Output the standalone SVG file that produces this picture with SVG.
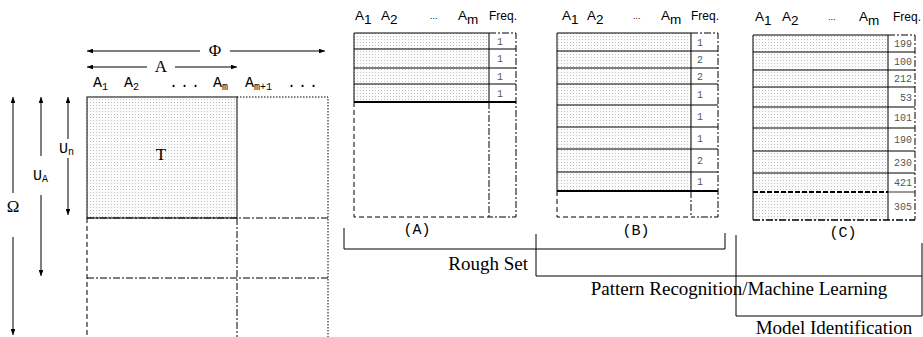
<svg xmlns="http://www.w3.org/2000/svg" width="923" height="337" viewBox="0 0 923 337">
  <defs>
    <pattern id="dots" width="3" height="3" patternUnits="userSpaceOnUse">
      <rect width="3" height="3" fill="#fcfcfc"/>
      <rect width="1" height="1" fill="#c2c2c2"/>
    </pattern>
    <marker id="ah" viewBox="0 0 10 8" refX="10" refY="4" markerWidth="6" markerHeight="4.8" orient="auto">
      <path d="M0,0 L10,4 L0,8 z" fill="#000"/>
    </marker>
  </defs>
  <style>
    .ln{stroke:#000;stroke-width:1;fill:none}
    .thick{stroke:#000;stroke-width:2;fill:none}
    .gray{stroke:#333;stroke-width:1;fill:none}
    .dash{stroke:#000;stroke-width:1;stroke-dasharray:5 3;fill:none}
    .dd{stroke:#000;stroke-width:1;stroke-dasharray:7 2 2 2;fill:none}
    .dot{stroke:#000;stroke-width:1;stroke-dasharray:1.5 1.5;fill:none}
    .arr{stroke:#000;stroke-width:1;fill:none;marker-end:url(#ah)}
    .mono{font-family:"Liberation Mono","Courier New",monospace;fill:#000}
    .serif{font-family:"Liberation Serif","Times New Roman",serif;fill:#000}
    .sans{font-family:"Liberation Sans",Arial,sans-serif;fill:#000}
    .num{font-family:"Liberation Mono","Courier New",monospace;font-size:10px;fill:#555}
    .hdr{font-size:13.5px}
    .fq{font-size:12px}
  </style>

  <!-- Universe of attributes and objects -->
  <g id="universe">
    <rect x="87" y="97" width="150" height="121" fill="url(#dots)" stroke="#000" stroke-width="1"/>
    <text class="serif" x="161" y="160" font-size="17" text-anchor="middle">T</text>
    <path class="dot" d="M237,97 H328 V337"/>
    <path class="dd" d="M87,218 H328 M87,278 H328 M237,218 V337"/>
    <path class="dash" d="M87,218 V337"/>
    <!-- attribute labels -->
    <g class="mono" font-size="15">
      <text x="93" y="87">A<tspan font-size="10" dy="3">1</tspan></text>
      <text x="124" y="87">A<tspan font-size="10" dy="3">2</tspan></text>
      <text x="169" y="87" letter-spacing="2">...</text>
      <text x="213" y="87">A<tspan font-size="10" dy="3">m</tspan></text>
      <text x="245" y="87">A<tspan font-size="10" dy="3">m+1</tspan></text>
      <text x="287" y="87" letter-spacing="2">...</text>
    </g>
  </g>

  <!-- Dimension arrows -->
  <g id="dimension-arrows">
    <line class="arr" x1="200" y1="51" x2="87" y2="51"/>
    <line class="arr" x1="230" y1="51" x2="325" y2="51"/>
    <text class="serif" x="215" y="56" font-size="17" text-anchor="middle">Φ</text>
    <line class="arr" x1="147" y1="67" x2="87" y2="67"/>
    <line class="arr" x1="175" y1="67" x2="237" y2="67"/>
    <text class="serif" x="161" y="72" font-size="17" text-anchor="middle">A</text>

    <line class="arr" x1="13" y1="193" x2="13" y2="97"/>
    <line class="arr" x1="13" y1="237" x2="13" y2="335"/>
    <text class="serif" x="13" y="212" font-size="17" text-anchor="middle">Ω</text>

    <line class="arr" x1="41" y1="156" x2="41" y2="97"/>
    <line class="arr" x1="41" y1="195" x2="41" y2="276"/>
    <text class="mono" x="33" y="180" font-size="15">U<tspan font-size="10" dy="2">A</tspan></text>

    <line class="arr" x1="68" y1="139" x2="68" y2="97"/>
    <line class="arr" x1="68" y1="158" x2="68" y2="215"/>
    <text class="mono" x="59" y="153" font-size="15">U<tspan font-size="10" dy="2">n</tspan></text>
  </g>

  <!-- Panel A -->
  <g id="panel-a">
    <g class="sans hdr">
      <text x="355" y="20">A<tspan dy="4">1</tspan></text>
      <text x="381" y="20">A<tspan dy="4">2</tspan></text>
      <text x="430" y="19" font-size="9">...</text>
      <text x="458" y="20">A<tspan dy="4">m</tspan></text>
      <text class="fq" x="517" y="20" text-anchor="end">Freq.</text>
    </g>
    <rect x="354" y="33" width="135" height="69" fill="url(#dots)"/>
    <path class="ln" d="M354,33 H489 M354,33 V102 M489,33 V102 M354,49 H516 M354,68 H516 M354,84 H516"/>
    <path class="thick" d="M354,102 H516"/>
    <path class="dd" d="M489,33 H516 V217 H489 M489,102 V217"/>
    <path class="dash" d="M354,102 V217 H489"/>
    <g class="num">
      <text x="497" y="45">1</text>
      <text x="497" y="62">1</text>
      <text x="497" y="80">1</text>
      <text x="497" y="97">1</text>
    </g>
    <text class="mono" x="417" y="234" font-size="15" text-anchor="middle">(A)</text>
  </g>

  <!-- Panel B -->
  <g id="panel-b">
    <g class="sans hdr">
      <text x="562" y="20">A<tspan dy="4">1</tspan></text>
      <text x="587" y="20">A<tspan dy="4">2</tspan></text>
      <text x="633" y="19" font-size="9">...</text>
      <text x="661" y="20">A<tspan dy="4">m</tspan></text>
      <text class="fq" x="719" y="20" text-anchor="end">Freq.</text>
    </g>
    <rect x="557" y="33" width="134" height="158" fill="url(#dots)"/>
    <path class="ln" d="M557,33 H691 M557,33 V191 M691,33 V191 M557,51 H718 M557,68 H718 M557,84 H718 M557,105 H718 M557,127 H718 M557,149 H718 M557,172 H718"/>
    <path class="thick" d="M557,191 H718"/>
    <path class="dd" d="M691,33 H718 V217 H691 M691,191 V217"/>
    <path class="dash" d="M557,191 V217 H691"/>
    <g class="num">
      <text x="697" y="46">1</text>
      <text x="697" y="63">2</text>
      <text x="697" y="80">2</text>
      <text x="697" y="98">1</text>
      <text x="697" y="120">1</text>
      <text x="697" y="142">1</text>
      <text x="697" y="164">2</text>
      <text x="697" y="185">1</text>
    </g>
    <text class="mono" x="636" y="235" font-size="15" text-anchor="middle">(B)</text>
  </g>

  <!-- Panel C -->
  <g id="panel-c">
    <g class="sans hdr">
      <text x="755" y="21">A<tspan dy="4">1</tspan></text>
      <text x="782" y="21">A<tspan dy="4">2</tspan></text>
      <text x="828" y="20" font-size="9">...</text>
      <text x="859" y="21">A<tspan dy="4">m</tspan></text>
      <text class="fq" x="921" y="21" text-anchor="end">Freq.</text>
    </g>
    <rect x="753" y="35" width="135" height="185" fill="url(#dots)"/>
    <path class="ln" d="M753,35 H888 M753,35 V220 M888,35 V220 M753,52 H915 M753,70 H915 M753,87 H915 M753,107 H915 M753,128 H915 M753,151 H915 M753,173 H915"/>
    <path class="gray" d="M888,192 H915"/>
    <path stroke="#000" stroke-width="2" stroke-dasharray="5 2" fill="none" d="M753,192 H888"/>
    <path stroke="#000" stroke-width="1.6" stroke-dasharray="7 2 2 2" fill="none" d="M753,220 H915"/>
    <path class="dd" d="M888,35 H915 V220"/>
    <g class="num" text-anchor="end">
      <text x="912" y="47">199</text>
      <text x="912" y="65">100</text>
      <text x="912" y="82">212</text>
      <text x="912" y="101">53</text>
      <text x="912" y="121">101</text>
      <text x="912" y="143">190</text>
      <text x="912" y="166">230</text>
      <text x="912" y="186">421</text>
      <text x="912" y="210">305</text>
    </g>
    <text class="mono" x="843" y="237" font-size="15" text-anchor="middle">(C)</text>
  </g>

  <!-- Method brackets -->
  <g id="brackets">
    <path class="ln" d="M344,228 V249 H725 V233"/>
    <path class="ln" d="M536,234 V276 H922 V243"/>
    <path class="ln" d="M736,235 V316 H922 V276"/>
    <text class="serif" x="528" y="270" font-size="19" text-anchor="end">Rough Set</text>
    <text class="serif" x="739" y="295" font-size="19" text-anchor="middle">Pattern Recognition/Machine Learning</text>
    <text class="serif" x="834" y="334" font-size="19" text-anchor="middle">Model Identification</text>
  </g>
</svg>
